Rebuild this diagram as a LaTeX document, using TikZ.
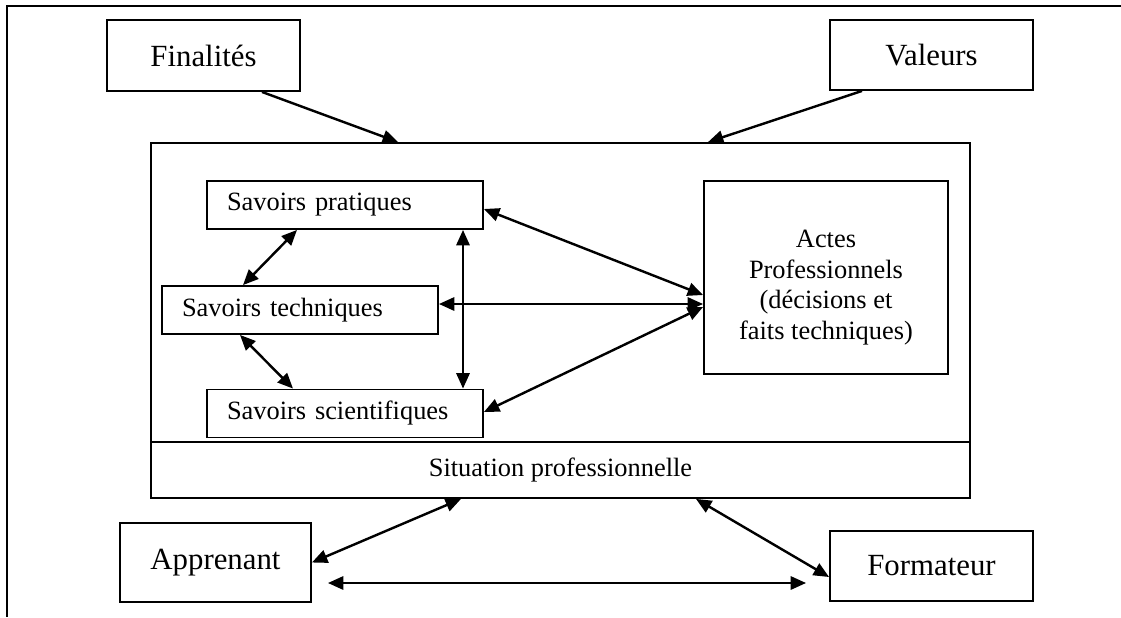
\documentclass[tikz,border=0pt]{standalone}
\usepackage{fontspec}
\setmainfont{Liberation Serif}
\usepackage{tikz}
\usetikzlibrary{
  arrows.meta, % for changing arrow head size
  calc,
  positioning,
}
\newcommand{\pxu}{0.4545pt}

\begin{document}
\begin{tikzpicture}[x=\pxu, y=-\pxu,
    boite/.style={draw, line width=0.85pt, inner sep=0pt, align=center},
    grand/.style={boite, font=\fontsize{14}{16}\selectfont},
    savoir/.style={boite, font=\fontsize{12}{14}\selectfont, align=left,
      text width=236*\pxu, inner xsep=20*\pxu, minimum height=48*\pxu},
    fleche/.style={line width=1.1pt, -{Triangle[length=7pt, width=6pt]}},
    dfleche/.style={line width=1.1pt, {Triangle[length=7pt, width=6pt]}-{Triangle[length=7pt, width=6pt]}},
  ]
  \useasboundingbox (0,0) rectangle (1121,617);
  \draw [line width=1.3pt] (1121,6) -- (7,6) -- (7,617);

  \node [grand, minimum width=193*\pxu, minimum height=71*\pxu] (fin) at (203.5,55.5) {Finalités};
  \node [grand, minimum width=203*\pxu, minimum height=70*\pxu] (val) at (931.5,55) {Valeurs};
  \node [boite, minimum width=819*\pxu, minimum height=299*\pxu] (cadre) at (560.5,292.5) {};
  \node [boite, minimum width=819*\pxu, minimum height=56*\pxu, font=\fontsize{12}{14}\selectfont] (sit) at (560.5,470) {Situation professionnelle};
  \node [savoir] (prat) at (345,205) {Savoirs pratiques};
  \node [savoir] (tech) at (300,310) {Savoirs techniques};
  \node [savoir] (sci) at (345,413.5) {Savoirs scientifiques};
  \node [boite, minimum width=244*\pxu, minimum height=193*\pxu,
    label={[font=\fontsize{12}{14}\selectfont, align=center, yshift=-10*\pxu]center:Actes\\Professionnels\\(décisions et\\faits techniques)}]
    (actes) at (826,277.5) {};
  \node [grand, minimum width=191*\pxu, minimum height=79*\pxu] (app) at (215.5,562.5) {Apprenant};
  \node [grand, minimum width=203*\pxu, minimum height=70*\pxu] (form) at (931.5,566) {Formateur};

  \draw [fleche] ([xshift=58.5*\pxu]fin.south) -- ([xshift=-162.5*\pxu]cadre.north);
  \draw [fleche] ([xshift=-69.5*\pxu]val.south) -- ([xshift=147.5*\pxu]cadre.north);

  \draw [dfleche] ([xshift=-48*\pxu]prat.south) -- ([xshift=-57*\pxu]tech.north);
  \draw [dfleche] ([xshift=-60*\pxu]tech.south) -- ([xshift=-52*\pxu]sci.north);
  \draw [dfleche] ([xshift=118*\pxu]prat.south) -- ([xshift=118*\pxu]sci.north);
  \draw [dfleche] ([yshift=-4*\pxu]prat.east) -- ([yshift=-17.5*\pxu]actes.west);
  \draw [dfleche] ([yshift=6*\pxu]tech.east) -- ([yshift=-26.5*\pxu]actes.west);
  \draw [dfleche] ([yshift=1.5*\pxu]sci.east) -- ([yshift=-29.5*\pxu]actes.west);

  \draw [dfleche] ([xshift=-99.5*\pxu]sit.south) -- (app.east);
  \draw [dfleche] ([xshift=135.5*\pxu]sit.south) -- ([yshift=-11*\pxu]form.west);
  \coordinate (h1) at ([xshift=16*\pxu, yshift=-20.5*\pxu]app.east);
  \coordinate (h2) at ([xshift=-23*\pxu, yshift=-17*\pxu]form.west);
  \draw [dfleche] (h1) -- (h2);
\end{tikzpicture}
\end{document}
